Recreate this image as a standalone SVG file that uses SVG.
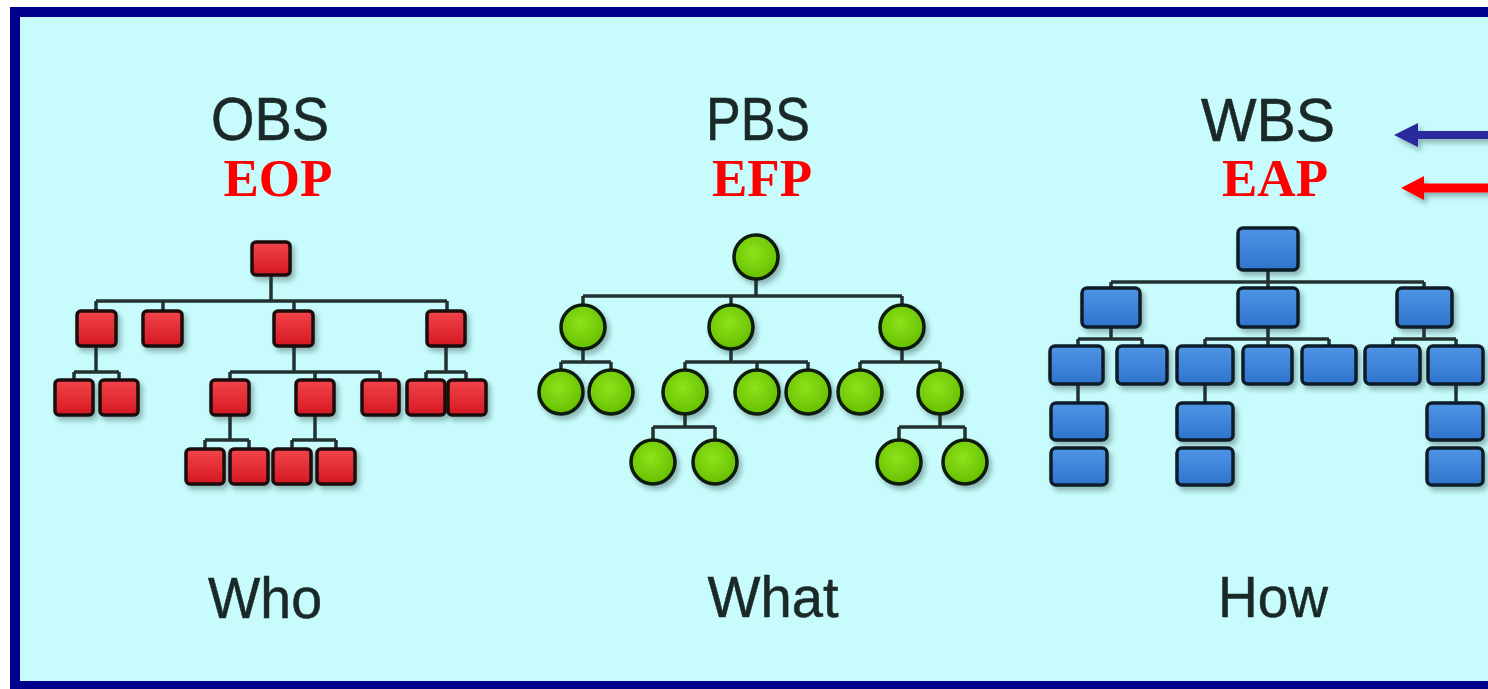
<svg xmlns="http://www.w3.org/2000/svg" width="1488" height="689" viewBox="0 0 1488 689">
<style>
.ttl{font-family:"Liberation Sans","DejaVu Sans",sans-serif;fill:#1b2828;font-size:62px;text-anchor:middle;stroke:#1b2828;stroke-width:0.6}
.sub{font-family:"Liberation Serif","Times New Roman",serif;fill:#ff0000;font-size:53px;font-weight:bold;text-anchor:middle}
.q{font-family:"Liberation Sans","DejaVu Sans",sans-serif;fill:#1b2828;font-size:57px;text-anchor:middle;stroke:#1b2828;stroke-width:0.5}
.ln{stroke:#223232;stroke-width:3.5;fill:none}
.r{fill:url(#gr);stroke:#1e0c0c;stroke-width:3.5}
.g{fill:url(#gg);stroke:#0f1a08;stroke-width:3.5}
.b{fill:url(#gb);stroke:#101c2a;stroke-width:3.5}
</style>
<defs>
<filter id="sh" x="-30%" y="-30%" width="170%" height="170%">
<feDropShadow dx="3" dy="4" stdDeviation="2.5" flood-color="#203838" flood-opacity="0.35"/>
</filter>
<linearGradient id="gr" x1="0" y1="0" x2="0" y2="1">
<stop offset="0" stop-color="#f2454a"/><stop offset="1" stop-color="#d51822"/>
</linearGradient>
<radialGradient id="gg" cx="0.45" cy="0.4" r="0.6">
<stop offset="0" stop-color="#8ee21a"/><stop offset="1" stop-color="#66c000"/>
</radialGradient>
<linearGradient id="gb" x1="0" y1="0" x2="0" y2="1">
<stop offset="0" stop-color="#4f95e6"/><stop offset="1" stop-color="#2f74cc"/>
</linearGradient>
</defs>
<rect x="0" y="0" width="1488" height="689" fill="#ffffff"/>
<rect x="15" y="12" width="1500" height="674" fill="#c8fcfc" stroke="#00008e" stroke-width="10"/>

<g id="titles">
<text class="ttl" x="270" y="140" textLength="118" lengthAdjust="spacingAndGlyphs">OBS</text>
<text class="sub" x="278" y="196">EOP</text>
<text class="ttl" x="758" y="140" textLength="104" lengthAdjust="spacingAndGlyphs">PBS</text>
<text class="sub" x="762" y="196">EFP</text>
<text class="ttl" x="1268" y="141" textLength="134" lengthAdjust="spacingAndGlyphs">WBS</text>
<text class="sub" x="1275" y="196">EAP</text>
<text class="q" x="265" y="618" textLength="114" lengthAdjust="spacingAndGlyphs">Who</text>
<text class="q" x="773" y="617" textLength="131" lengthAdjust="spacingAndGlyphs">What</text>
<text class="q" x="1273" y="617" textLength="110" lengthAdjust="spacingAndGlyphs">How</text>
</g>

<g id="arrows" filter="url(#sh)">
<line x1="1416" y1="135" x2="1490" y2="135" stroke="#2b2b9c" stroke-width="8"/>
<polygon points="1394,135 1418,123 1418,147" fill="#2b2b9c"/>
<line x1="1422" y1="188" x2="1490" y2="188" stroke="#ff0000" stroke-width="9"/>
<polygon points="1401,188 1424,176 1424,200" fill="#ff0000"/>
</g>

<g id="connectors" class="ln">
<path class="ln" d="M271 275V301M96 301H447M96 301V311M163 301V311M294 301V311M447 301V311"/>
<path class="ln" d="M96 346V372M74 372H119M74 372V380M119 372V380"/>
<path class="ln" d="M294 346V372M230 372H380M230 372V380M315 372V380M380 372V380"/>
<path class="ln" d="M446 346V372M426 372H466M426 372V380M466 372V380"/>
<path class="ln" d="M230 415V440M205 440H249M205 440V449M249 440V449"/>
<path class="ln" d="M315 415V440M292 440H336M292 440V449M336 440V449"/>
<path class="ln" d="M756 279V296M583 296H902M583 296V305M731 296V305M902 296V305"/>
<path class="ln" d="M583 349V362M561 362H611M561 362V370M611 362V370"/>
<path class="ln" d="M731 349V362M685 362H808M685 362V370M757 362V370M808 362V370"/>
<path class="ln" d="M902 349V362M860 362H940M860 362V370M940 362V370"/>
<path class="ln" d="M685 414V427M653 427H715M653 427V440M715 427V440"/>
<path class="ln" d="M940 414V427M899 427H965M899 427V440M965 427V440"/>
<path class="ln" d="M1268 270V282M1111 282H1424M1111 282V288M1268 282V288M1424 282V288"/>
<path class="ln" d="M1111 327V339M1078 339H1142M1078 339V346M1142 339V346"/>
<path class="ln" d="M1268 327V339M1205 339H1329M1205 339V346M1268 339V346M1329 339V346"/>
<path class="ln" d="M1424 327V339M1393 339H1456M1393 339V346M1456 339V346"/>
<path class="ln" d="M1078 384V403M1205 384V403M1456 384V403"/>
</g>

<g id="obs" filter="url(#sh)">
<rect id="o0" class="r" x="252" y="242" width="38" height="33" rx="4"/>
<rect id="o1" class="r" x="77" y="311" width="39" height="35" rx="4"/>
<rect id="o2" class="r" x="143" y="311" width="39" height="35" rx="4"/>
<rect id="o3" class="r" x="274" y="311" width="39" height="35" rx="4"/>
<rect id="o4" class="r" x="427" y="311" width="38" height="35" rx="4"/>
<rect id="o5" class="r" x="55" y="380" width="38" height="35" rx="4"/>
<rect id="o6" class="r" x="100" y="380" width="38" height="35" rx="4"/>
<rect id="o7" class="r" x="211" y="380" width="38" height="35" rx="4"/>
<rect id="o8" class="r" x="296" y="380" width="38" height="35" rx="4"/>
<rect id="o9" class="r" x="362" y="380" width="37" height="35" rx="4"/>
<rect id="o10" class="r" x="407" y="380" width="38" height="35" rx="4"/>
<rect id="o11" class="r" x="448" y="380" width="38" height="35" rx="4"/>
<rect id="o12" class="r" x="186" y="449" width="38" height="35" rx="4"/>
<rect id="o13" class="r" x="230" y="449" width="38" height="35" rx="4"/>
<rect id="o14" class="r" x="273" y="449" width="38" height="35" rx="4"/>
<rect id="o15" class="r" x="317" y="449" width="38" height="35" rx="4"/>
</g>

<g id="pbs" filter="url(#sh)">
<circle id="p0" class="g" cx="756" cy="257" r="22"/>
<circle id="p1" class="g" cx="583" cy="327" r="22"/>
<circle id="p2" class="g" cx="731" cy="327" r="22"/>
<circle id="p3" class="g" cx="902" cy="327" r="22"/>
<circle id="p4" class="g" cx="561" cy="392" r="22"/>
<circle id="p5" class="g" cx="611" cy="392" r="22"/>
<circle id="p6" class="g" cx="685" cy="392" r="22"/>
<circle id="p7" class="g" cx="757" cy="392" r="22"/>
<circle id="p8" class="g" cx="808" cy="392" r="22"/>
<circle id="p9" class="g" cx="860" cy="392" r="22"/>
<circle id="p10" class="g" cx="940" cy="392" r="22"/>
<circle id="p11" class="g" cx="653" cy="462" r="22"/>
<circle id="p12" class="g" cx="715" cy="462" r="22"/>
<circle id="p13" class="g" cx="899" cy="462" r="22"/>
<circle id="p14" class="g" cx="965" cy="462" r="22"/>
</g>

<g id="wbs" filter="url(#sh)">
<rect id="w0" class="b" x="1238" y="228" width="60" height="42" rx="5"/>
<rect id="w1" class="b" x="1082" y="288" width="58" height="39" rx="5"/>
<rect id="w2" class="b" x="1238" y="288" width="60" height="39" rx="5"/>
<rect id="w3" class="b" x="1397" y="288" width="55" height="39" rx="5"/>
<rect id="w4" class="b" x="1050" y="346" width="53" height="38" rx="5"/>
<rect id="w5" class="b" x="1117" y="346" width="50" height="38" rx="5"/>
<rect id="w6" class="b" x="1177" y="346" width="56" height="38" rx="5"/>
<rect id="w7" class="b" x="1243" y="346" width="49" height="38" rx="5"/>
<rect id="w8" class="b" x="1302" y="346" width="54" height="38" rx="5"/>
<rect id="w9" class="b" x="1365" y="346" width="55" height="38" rx="5"/>
<rect id="w10" class="b" x="1428" y="346" width="55" height="38" rx="5"/>
<rect id="w11" class="b" x="1051" y="403" width="56" height="37" rx="5"/>
<rect id="w12" class="b" x="1051" y="448" width="56" height="37" rx="5"/>
<rect id="w13" class="b" x="1177" y="403" width="56" height="37" rx="5"/>
<rect id="w14" class="b" x="1177" y="448" width="56" height="37" rx="5"/>
<rect id="w15" class="b" x="1427" y="403" width="56" height="37" rx="5"/>
<rect id="w16" class="b" x="1427" y="448" width="56" height="37" rx="5"/>
</g>
</svg>
